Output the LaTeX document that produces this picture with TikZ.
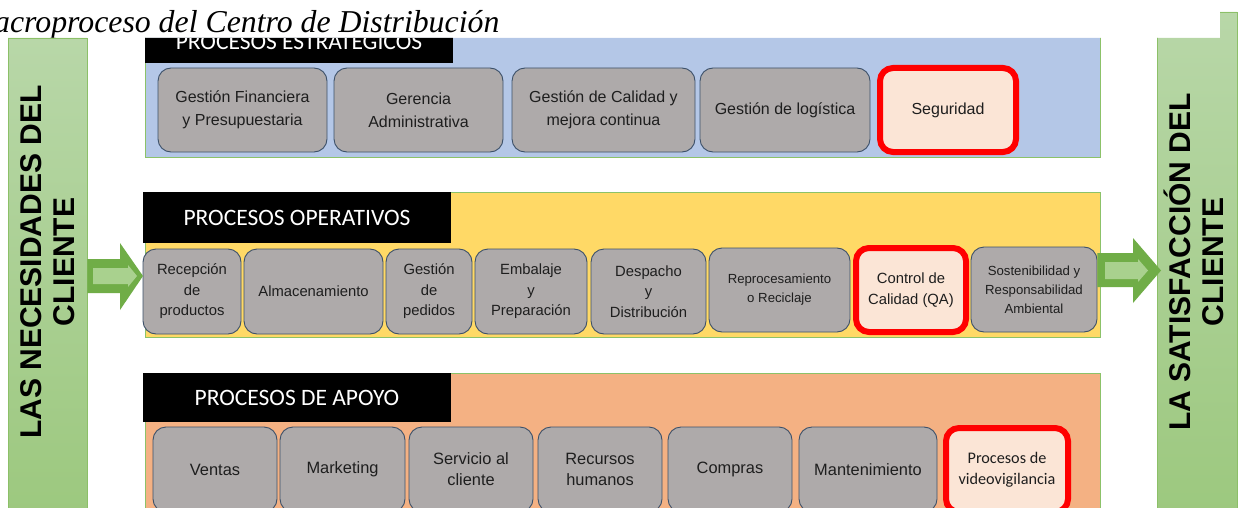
\documentclass[tikz,border=0pt]{standalone}
\usepackage{fontspec}
\setmainfont{Liberation Sans}
\newfontfamily\titlefont{Liberation Serif}
\newfontfamily\hdfont{Carlito}
\definecolor{gtop}{RGB}{184,215,168}
\definecolor{gbot}{RGB}{156,200,126}
\definecolor{gline}{RGB}{140,192,104}
\definecolor{pblue}{RGB}{180,199,231}
\definecolor{pyellow}{RGB}{255,217,102}
\definecolor{porange}{RGB}{244,177,131}
\definecolor{pborder}{RGB}{140,194,105}
\definecolor{ngray}{RGB}{174,170,170}
\definecolor{nborder}{RGB}{60,80,105}
\definecolor{rfill}{RGB}{251,229,214}
\definecolor{txt}{RGB}{30,30,30}
\definecolor{adark}{RGB}{112,173,71}
\definecolor{alight}{RGB}{169,209,142}
\newcommand{\mybox}[7]{\node[#6, minimum width={#4-#2}, minimum height={#5-#3}] (#1) at ({(#2+#4)/2},{(#3+#5)/2}) {#7};}
\tikzset{
  panel/.style={draw=pborder, line width=1pt, inner sep=0pt},
  header/.style={fill=black, text=white, font=\hdfont\fontsize{23.5}{28}\selectfont, inner sep=0pt},
  gbox/.style={draw=nborder, fill=ngray, line width=0.9pt, rounded corners=13pt, align=center, inner sep=0pt, text=txt},
  rbox/.style={draw=red, fill=rfill, line width=6pt, rounded corners=13pt, align=center, inner sep=0pt, text=txt},
  fA/.style={font=\fontsize{16}{23}\selectfont},
  fB/.style={font=\fontsize{14.8}{20.5}\selectfont},
  fC/.style={font=\fontsize{13.2}{19}\selectfont},
  fD/.style={font=\fontsize{16.4}{21}\selectfont},
  fE/.style={font=\hdfont\fontsize{16.2}{21}\selectfont},
  bar/.style={draw=gline, line width=0.8pt, top color=gtop, bottom color=gbot, inner sep=0pt},
  bartext/.style={rotate=90, align=center, font=\bfseries\fontsize{30}{33}\selectfont, text=black, inner sep=0pt},
  adk/.style={fill=adark},
  alt/.style={fill=alight},
}
\begin{document}
\begin{tikzpicture}[x=1pt,y=-1pt]
\useasboundingbox (0,0) rectangle (1238,508);
% title
\node[anchor=base west, inner sep=0pt, font=\titlefont\itshape\fontsize{31.8}{36}\selectfont] (title) at (-6,33) {acroproceso del Centro de Distribución};
\begin{scope}
\clip (0,38) -- (1220,38) -- (1220,12) -- (1238,12) -- (1238,520) -- (0,520) -- cycle;
\fill[white] (0,0) rectangle (1238,520);
% green bars
\mybox{lbar}{8}{38}{87}{520}{bar}{}
\mybox{rbar}{1157}{12}{1237}{520}{bar}{}
\node[bartext] (ltext) at (47.5,262) {LAS NECESIDADES DEL\\CLIENTE};
\node[bartext] (rtext) at (1194,262) {LA SATISFACCIÓN DEL\\CLIENTE};
% panels
\mybox{pest}{145}{18}{1100}{157}{panel, fill=pblue}{}
\mybox{pope}{145}{192}{1100}{337}{panel, fill=pyellow}{}
\mybox{papo}{145}{373}{1100}{520}{panel, fill=porange}{}
% headers
\mybox{h1}{145}{16}{453}{63}{header}{PROCESOS ESTRATÉGICOS}
\mybox{h2}{143}{192}{451}{243}{header}{PROCESOS OPERATIVOS}
\mybox{h3}{143}{373}{451}{422}{header}{PROCESOS DE APOYO}
% row 1
\mybox{e1}{158}{68}{327}{152}{gbox,fA}{Gestión Financiera\\y Presupuestaria}
\mybox{e2}{334}{68}{503}{152}{gbox,fA}{Gerencia\\Administrativa}
\mybox{e3}{512}{68}{695}{152}{gbox,fA}{Gestión de Calidad y\\mejora continua}
\mybox{e4}{700}{68}{870}{152}{gbox,fA}{Gestión de logística}
\mybox{e5}{880}{68}{1016}{152}{rbox,fA}{Seguridad}
% row 2
\mybox{o1}{143}{249}{241}{334}{gbox,fB}{Recepción\\de\\productos}
\mybox{o2}{244}{249}{383}{334}{gbox,fB}{Almacenamiento}
\mybox{o3}{386}{249}{472}{334}{gbox,fB}{Gestión\\de\\pedidos}
\mybox{o4}{475}{249}{587}{334}{gbox,fB}{Embalaje\\y\\Preparación}
\mybox{o5}{591}{249}{706}{334}{gbox,fB}{Despacho\\y\\Distribución}
\mybox{o6}{709}{248}{850}{332}{gbox,fC}{Reprocesamiento\\o Reciclaje}
\mybox{o7}{856}{248}{966}{332}{rbox,fB}{Control de\\Calidad (QA)}
\mybox{o8}{971}{247}{1097}{332}{gbox,fC}{Sostenibilidad y\\Responsabilidad\\Ambiental}
% row 3
\mybox{a1}{153}{427}{277}{512}{gbox,fD}{Ventas}
\mybox{a2}{280}{427}{405}{512}{gbox,fD}{Marketing}
\mybox{a3}{409}{427}{533}{512}{gbox,fD}{Servicio al\\cliente}
\mybox{a4}{538}{427}{662}{512}{gbox,fD}{Recursos\\humanos}
\mybox{a5}{668}{427}{792}{512}{gbox,fD}{Compras}
\mybox{a6}{799}{427}{937}{512}{gbox,fD}{Mantenimiento}
\mybox{a7}{946}{428}{1068}{512}{rbox,fE}{Procesos de\\videovigilancia}
% arrows
\fill[adk] (lbar.east |- 0,259) -- (120,259) -- (120,243) -- (143,276) -- (120,310) -- (120,293) -- (lbar.east |- 0,293) -- cycle;
\fill[alt] (93,268) -- (128,268) -- (128,265) -- (137,276) -- (128,287) -- (128,284) -- (93,284) -- cycle;
\fill[adk] (o8.east |- 0,253) -- (1133,253) -- (1133,238) -- (1161,270.5) -- (1133,303) -- (1133,287) -- (o8.east |- 0,287) -- cycle;
\fill[alt] (1105,262) -- (1138,262) -- (1138,259) -- (1148,270.5) -- (1138,282) -- (1138,279) -- (1105,279) -- cycle;
\end{scope}
\end{tikzpicture}
\end{document}
